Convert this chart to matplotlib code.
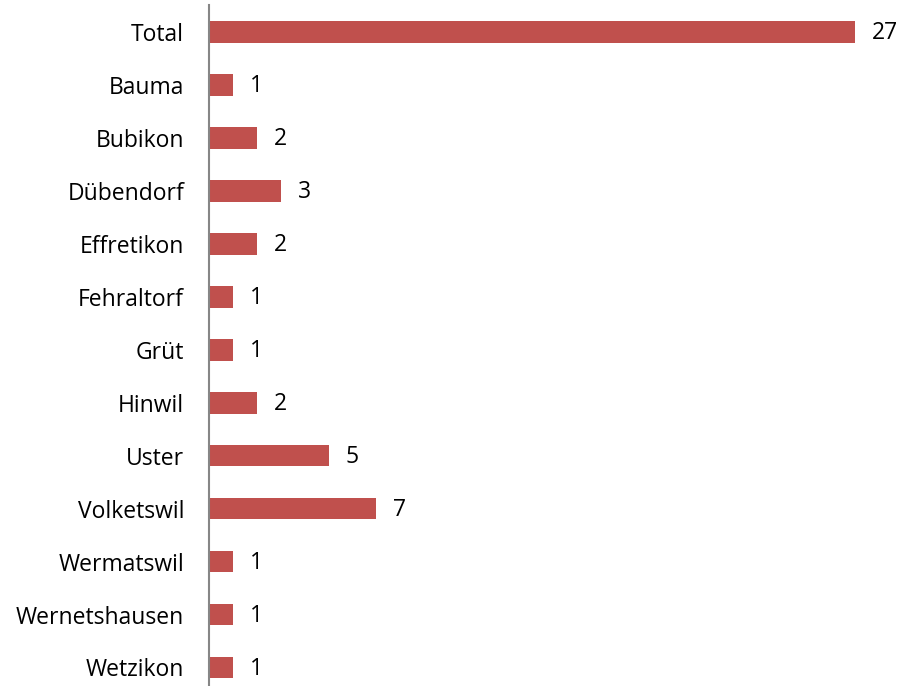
import matplotlib
matplotlib.use("Agg")
import matplotlib.pyplot as plt

# Anzahl pro Ort
orte = ["Total", "Bauma", "Bubikon", "Dübendorf", "Effretikon", "Fehraltorf",
        "Grüt", "Hinwil", "Uster", "Volketswil", "Wermatswil",
        "Wernetshausen", "Wetzikon"]
anzahl = [27, 1, 2, 3, 2, 1, 1, 2, 5, 7, 1, 1, 1]

plt.rcParams["font.family"] = ["Open Sans", "DejaVu Sans"]

fig = plt.figure(figsize=(9.01, 6.86), dpi=100)
ax = fig.add_axes([209 / 901, 0, 1 - 209 / 901, 680.5 / 686])

pos = list(range(len(orte)))
ax.barh(pos, anzahl, height=0.41, color="#C0504D", edgecolor="none")

for p, v in zip(pos, anzahl):
    ax.annotate(str(v), (v, p), xytext=(12, -1), textcoords="offset points",
                va="center", ha="left", fontsize=16.5, color="black")

ax.set_xlim(0, 28.92)
ax.set_ylim(12.35, -0.5)
ax.set_yticks(pos)
ax.set_yticklabels(orte, fontsize=16.5)
ax.tick_params(axis="y", length=0, pad=18)
ax.set_xticks([])

for s in ["top", "right", "bottom"]:
    ax.spines[s].set_visible(False)
ax.spines["left"].set_color("#868686")
ax.spines["left"].set_linewidth(1.5)

fig.savefig("out.png", dpi=100)
